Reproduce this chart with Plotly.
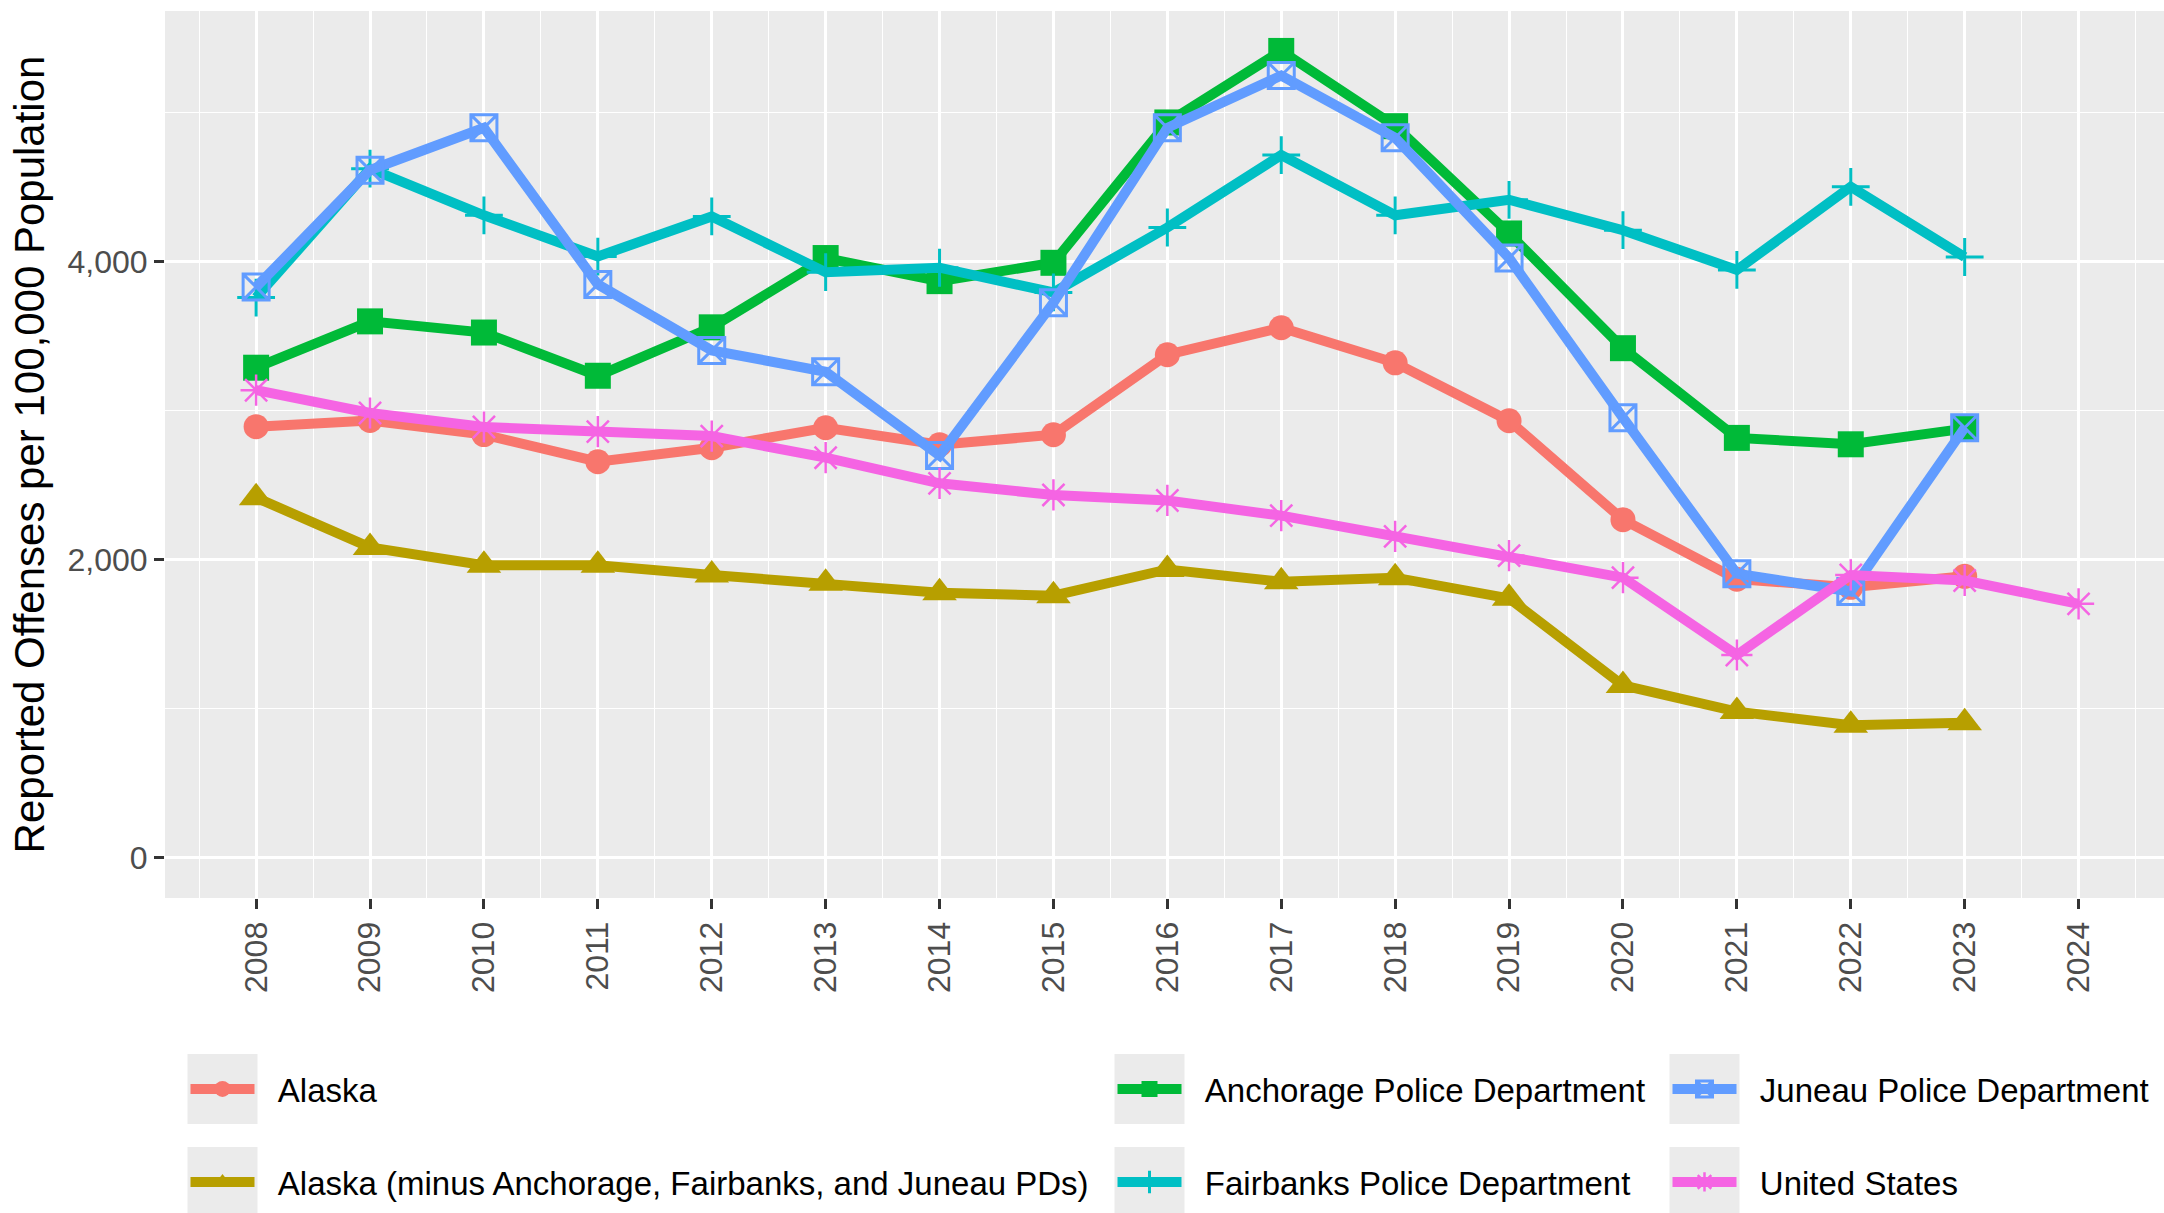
import plotly.graph_objects as go

# ---------------- data ----------------
years_all = [2008, 2009, 2010, 2011, 2012, 2013, 2014, 2015, 2016,
             2017, 2018, 2019, 2020, 2021, 2022, 2023, 2024]
years_ak = years_all[:-1]

alaska = [2893, 2935, 2840, 2658, 2752, 2886, 2772, 2839, 3376,
          3557, 3322, 2933, 2269, 1870, 1815, 1889]
alaska_minus = [2417, 2083, 1963, 1963, 1898, 1843, 1778, 1759, 1935,
                1852, 1880, 1741, 1157, 981, 889, 907]
anchorage = [3289, 3600, 3525, 3235, 3560, 4025, 3870, 3993, 4935,
             5415, 4910, 4190, 3420, 2818, 2775, 2880]
fairbanks = [3760, 4625, 4312, 4035, 4304, 3930, 3960, 3794, 4230,
             4716, 4312, 4416, 4212, 3945, 4503, 4032]
juneau = [3830, 4615, 4899, 3848, 3405, 3262, 2700, 3725, 4899,
          5250, 4832, 4025, 2953, 1907, 1787, 2886]
united_states = [3138, 2985, 2891, 2860, 2830, 2685, 2513, 2435, 2398,
                 2296, 2157, 2028, 1880, 1361, 1898, 1861, 1704]

series_names = ["Alaska",
                "Alaska (minus Anchorage, Fairbanks, and Juneau PDs)",
                "Anchorage Police Department",
                "Fairbanks Police Department",
                "Juneau Police Department",
                "United States"]

y_tick_values = [0, 2000, 4000]
y_tick_labels = ["0", "2,000", "4,000"]
x_tick_values = years_all
x_tick_labels = [str(y) for y in years_all]

# ---------------- styling ----------------
W, H = 2164, 1213
L, R, T, B = 165, 0, 11, 315
PW, PH = W - L - R, H - T - B

def px_x(x):
    return (x - L) / PW

def px_y(y):
    return (T + PH - y) / PH

FONT = "Liberation Sans, Arial, sans-serif"
colors = ["#F8766D", "#B79F00", "#00BA38", "#00BFC4", "#619CFF", "#F564E3"]
symbols = ["circle", "triangle-up", "square", "cross-thin-open",
           "square-x-open", "asterisk-open"]
sizes = [25, 30, 26, 27, 26, 26]
mlw = [0, 0, 0, 3, 3, 2.5]

xs = [years_ak, years_ak, years_ak, years_ak, years_ak, years_all]
ys = [alaska, alaska_minus, anchorage, fairbanks, juneau, united_states]

legend_ids = ["legend", "legend2", "legend3", "legend4", "legend5", "legend6"]
ITEMW = 64
box_centers_x = [222.5, 222.5, 1149.5, 1149.5, 1704.5, 1704.5]
row_centers_y = [1089, 1182, 1089, 1182, 1089, 1182]

fig = go.Figure()
for i in range(6):
    fig.add_trace(go.Scatter(
        x=xs[i], y=ys[i], name="\u00a0\u00a0" + series_names[i],
        mode="lines+markers",
        line=dict(color=colors[i], width=10),
        marker=dict(symbol=symbols[i], size=sizes[i], color=colors[i],
                    line=dict(color=colors[i], width=mlw[i])),
        legend=legend_ids[i], showlegend=True,
    ))

legend_layouts = {}
shapes = []
for i in range(6):
    cx = box_centers_x[i]
    cy = row_centers_y[i]
    legend_layouts[legend_ids[i]] = dict(
        x=px_x(cx - (5 + ITEMW / 2)), xanchor="left",
        y=px_y(cy), yanchor="middle",
        bgcolor="rgba(0,0,0,0)", borderwidth=0,
        itemwidth=ITEMW, itemsizing="trace", visible=True,
        font=dict(family=FONT, size=33, color="black"),
    )
    shapes.append(dict(
        type="rect", xref="paper", yref="paper", layer="below",
        x0=px_x(cx - 35), x1=px_x(cx + 35),
        y0=px_y(cy + 35), y1=px_y(cy - 35),
        fillcolor="#EBEBEB", line=dict(width=0),
    ))

fig.update_layout(
    width=W, height=H,
    showlegend=True,
    margin=dict(l=L, r=R, t=T, b=B, pad=0),
    paper_bgcolor="white", plot_bgcolor="#EBEBEB",
    font=dict(family=FONT, size=32, color="#4D4D4D"),
    shapes=shapes,
    **legend_layouts,
)

fig.update_xaxes(
    range=[2007.2, 2024.75],
    tickmode="array", tickvals=x_tick_values, ticktext=x_tick_labels,
    tickangle=-90,
    ticks="outside", ticklen=10, tickwidth=2.8, tickcolor="#333333",
    tickfont=dict(family=FONT, size=32, color="#4D4D4D"),
    showgrid=True, gridcolor="white", gridwidth=2.8,
    minor=dict(tick0=2007.5, dtick=1, showgrid=True, gridcolor="white",
               gridwidth=1.4, ticks=""),
    zeroline=False, showline=False,
)
fig.update_yaxes(
    range=[-270, 5683],
    tickmode="array", tickvals=y_tick_values, ticktext=y_tick_labels,
    ticks="outside", ticklen=10, tickwidth=2.8, tickcolor="#333333",
    tickfont=dict(family=FONT, size=32, color="#4D4D4D"),
    showgrid=True, gridcolor="white", gridwidth=2.8,
    minor=dict(tick0=0, dtick=1000, showgrid=True, gridcolor="white",
               gridwidth=1.4, ticks=""),
    zeroline=False, showline=False,
    title=dict(text="Reported Offenses per 100,000 Population",
               font=dict(family=FONT, size=42, color="black"), standoff=9),
)

fig.write_html("out.html", config={"displayModeBar": False},
               post_script="document.body.style.margin='0';")
